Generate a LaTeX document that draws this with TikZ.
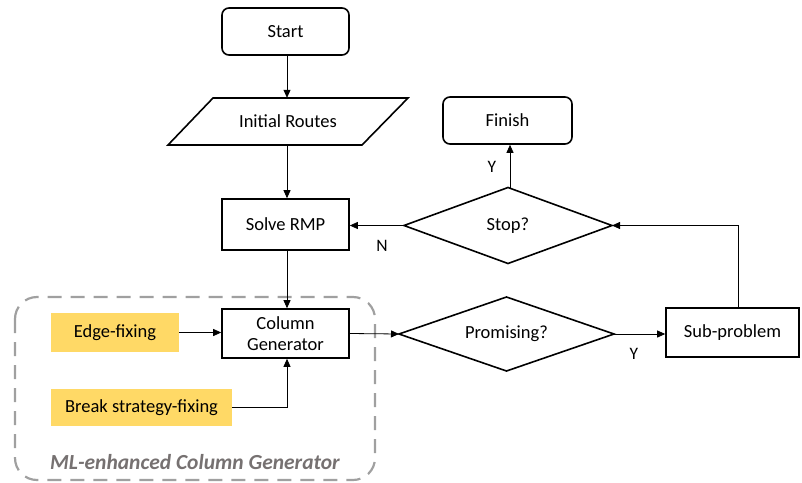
\documentclass[tikz,border=0pt]{standalone}
\usepackage{fontspec}
\setmainfont{Carlito}
\usetikzlibrary{shapes.geometric,arrows.meta}
\definecolor{fixyellow}{RGB}{255,217,102}
\definecolor{dashgray}{RGB}{160,160,160}
\definecolor{labelgray}{RGB}{118,113,113}
\tikzset{
  txt/.style={font=\fontsize{18.5}{19.5}\selectfont},
  box/.style={draw=black, line width=1.6pt, inner sep=0pt, align=center, txt},
  rbox/.style={box, rounded corners=7pt},
  dec/.style={draw=black, line width=1.6pt, diamond, shape aspect=3, inner sep=0pt, outer sep=0pt, txt},
  fixbox/.style={fill=fixyellow, inner sep=0pt, txt},
  conn/.style={line width=0.8pt, -{Triangle[length=8pt,width=7pt]}},
  lbl/.style={font=\fontsize{17.5}{19}\selectfont, inner sep=0pt}
}
\begin{document}
\begin{tikzpicture}[x=1pt,y=-1pt]
\useasboundingbox (0,0) rectangle (802,482);
% dashed group
\draw[dashgray, line width=2.2pt, dash pattern=on 14pt off 9pt, rounded corners=22pt] (15,297) rectangle (375,480);
\node[font=\fontsize{21.5}{23}\selectfont\bfseries\itshape, text=labelgray, inner sep=0pt] (mlab) at (195,462) {ML-enhanced Column Generator};
% nodes
\node[rbox, minimum width=127pt, minimum height=47pt] (start) at (285.5,31.5) {Start};
\node[inner sep=0pt, minimum width=195pt, minimum height=47pt, txt] (ir) at (288,121.5) {Initial Routes};
\draw[line width=1.6pt] (213,98) -- (408,98) -- (362,145) -- (168,145) -- cycle;
\node[box, minimum width=127pt, minimum height=51pt] (rmp) at (285.5,224.5) {Solve RMP};
\node[box, minimum width=127pt, minimum height=49pt] (cg) at (285.5,333.5) {Column\\[1.5pt]Generator};
\node[fixbox, minimum width=128pt, minimum height=39pt] (ef) at (115,332.5) {Edge-fixing};
\node[fixbox, minimum width=181pt, minimum height=37pt] (bs) at (141.5,407.5) {Break strategy-fixing};
\node[dec, minimum width=215pt, minimum height=74pt] (prom) at (506.5,334) {Promising?};
\node[dec, minimum width=208pt, minimum height=76pt] (stop) at (508,225.5) {Stop?};
\node[box, minimum width=133pt, minimum height=49pt] (sub) at (732.5,332.5) {Sub-problem};
\node[rbox, minimum width=129pt, minimum height=47pt] (fin) at (507.5,120.5) {Finish};
% connectors
\draw[conn] (start.south -| 287,0) -- (ir.north -| 287,0);
\draw[conn] (ir.south -| 287,0) -- (rmp.north -| 287,0);
\draw[conn] (rmp.south -| 287,0) -- (cg.north -| 287,0);
\draw[conn] (ef.east) -- (cg.west |- ef.east);
\draw[conn] (bs.east) -| (cg.south -| 287,0);
\draw[conn] (cg.east) -- (prom.west);
\draw[conn] (prom.east) -- (sub.west |- prom.east);
\draw[conn] (sub.north -| 738,0) |- (stop.east);
\draw[conn] (stop.west) -- (rmp.east |- stop.west);
\draw[conn] (stop.north -| 510,0) -- (fin.south -| 510,0);
% labels
\node[lbl] (ly1) at (634,354) {Y};
\node[lbl] (ln) at (382,246) {N};
\node[lbl] (ly2) at (492,167) {Y};
\end{tikzpicture}
\end{document}
